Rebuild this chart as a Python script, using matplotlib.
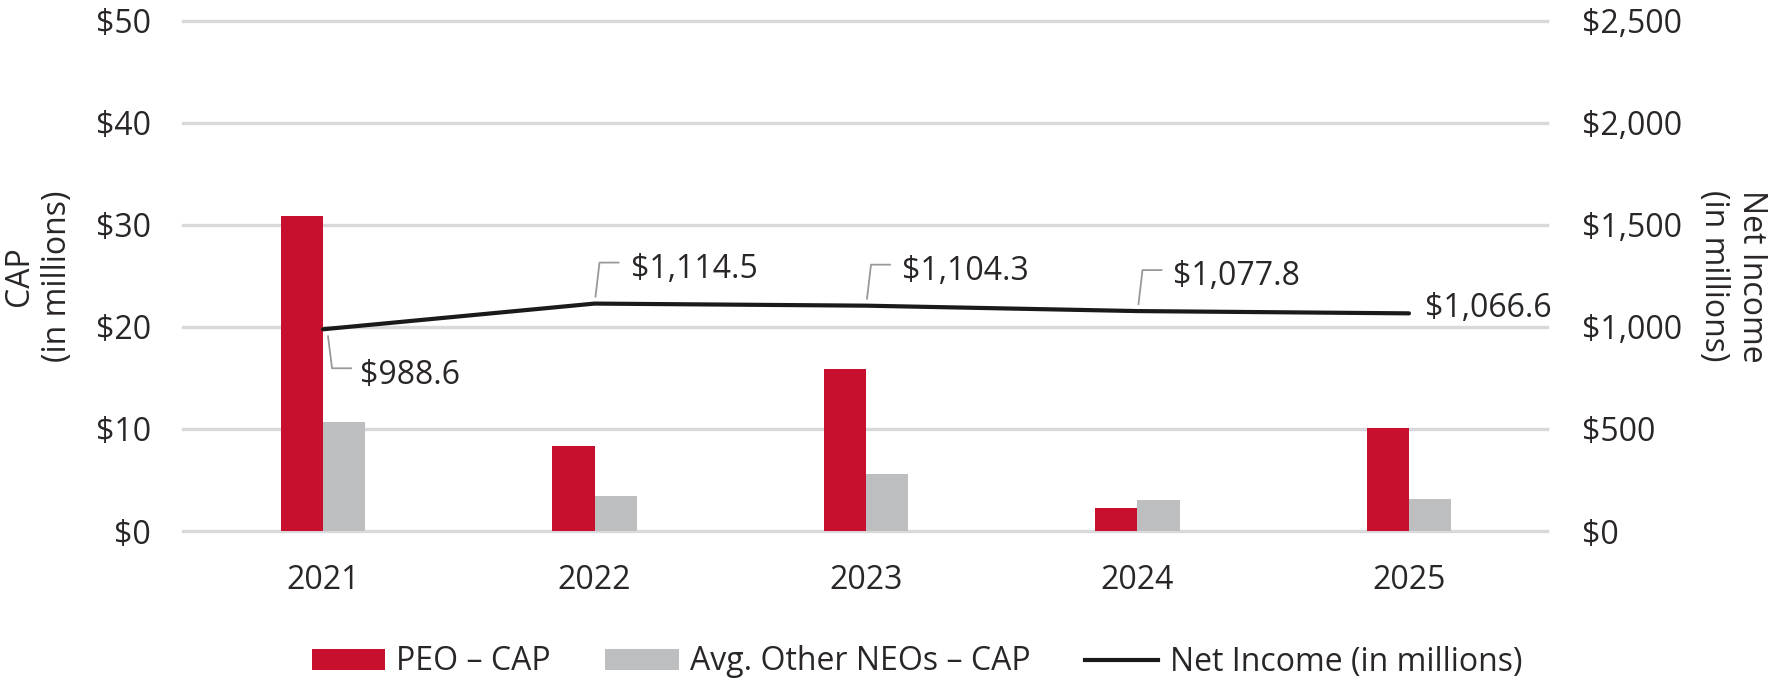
import matplotlib.pyplot as plt
import matplotlib.transforms as mtransforms
from matplotlib.patches import Patch
from matplotlib.lines import Line2D
import numpy as np

years = ["2021", "2022", "2023", "2024", "2025"]
peo_cap = [30.9, 8.3, 15.9, 2.3, 10.1]
other_neo_cap = [10.7, 3.4, 5.6, 3.0, 3.1]
net_income = [988.6, 1114.5, 1104.3, 1077.8, 1066.6]
left_ticks = [0, 10, 20, 30, 40, 50]
right_ticks = [0, 500, 1000, 1500, 2000, 2500]
label_side = ["below", "above", "above", "above", "end"]

RED = "#c8102e"
GRAY = "#bdbec0"
INK = "#2a2627"
GRID = "#d9d9db"
LINE = "#1a1a1a"
LEADER = "#999999"

plt.rcParams['font.family'] = ['Open Sans', 'DejaVu Sans']
plt.rcParams['font.size'] = 23
plt.rcParams['text.color'] = INK
plt.rcParams['axes.labelcolor'] = INK
plt.rcParams['xtick.color'] = INK
plt.rcParams['ytick.color'] = INK

fig = plt.figure(figsize=(17.76, 6.82), dpi=100)
ax = fig.add_axes([0.103, 0.2214, 0.768, 0.748])

x = np.arange(len(years))
w = 0.155
ax.bar(x - w / 2, peo_cap, w, color=RED, zorder=2)
ax.bar(x + w / 2, other_neo_cap, w, color=GRAY, zorder=2)
ax.set_xlim(-0.516, 4.508)
ax.set_ylim(0, 50)
ax.set_xticks(x, years)
ax.set_yticks(left_ticks, [f"${v}" for v in left_ticks])
ax.grid(axis='y', color=GRID, lw=2.4)
ax.set_axisbelow(True)
for gl in ax.get_ygridlines():
    gl.set_clip_on(False)
ax.tick_params(axis='y', length=0, pad=23)
ax.tick_params(axis='x', length=0, pad=24)
for s in ax.spines.values():
    s.set_visible(False)
ax.set_ylabel("CAP\n(in millions)", labelpad=16, linespacing=1.2)

ax2 = ax.twinx()
ax2.plot(x, net_income, color=LINE, lw=3.0, solid_capstyle='round', zorder=3)
ax2.set_ylim(0, 2500)
ax2.set_yticks(right_ticks, [f"${v:,}" for v in right_ticks])
ax2.tick_params(axis='y', length=0, pad=25)
for s in ax2.spines.values():
    s.set_visible(False)
ax2.set_ylabel("Net Income\n(in millions)", rotation=270, va='bottom',
               labelpad=11, linespacing=1.2)

# data labels with elbow leaders (offsets in pixels)
em_half = 11.4
for xi, v, side in zip(x, net_income, label_side):
    if side == "above":
        leader = [(1, 7), (5, 41), (24, 41)]
        txt = (36, 37)
    elif side == "below":
        leader = [(5, -7), (9, -39), (28, -39)]
        txt = (37, -43)
    else:
        leader = None
        txt = (16, 8)
    ax2.annotate(f"${v:,.1f}", xy=(xi, v), xytext=(txt[0], txt[1] - em_half),
                 textcoords='offset pixels', ha='left', va='baseline', zorder=4)
    if leader:
        trans = mtransforms.Affine2D() + mtransforms.ScaledTranslation(xi, v, ax2.transData)
        lx, ly = zip(*leader)
        fig.add_artist(Line2D(lx, ly, color=LEADER, lw=1.3, transform=trans, zorder=4))

handles = [Patch(facecolor=RED), Patch(facecolor=GRAY), Line2D([], [], color=LINE, lw=3.0)]
labels = ["PEO \u2013 CAP", "Avg. Other NEOs \u2013 CAP", "Net Income (in millions)"]
fig.legend(handles, labels, loc='center', bbox_to_anchor=(917 / 1776, 20 / 682), ncol=3,
           frameon=False, handlelength=2.3, handleheight=0.63, handletextpad=0.35,
           columnspacing=1.7)

fig.savefig("out.png", dpi=100)
